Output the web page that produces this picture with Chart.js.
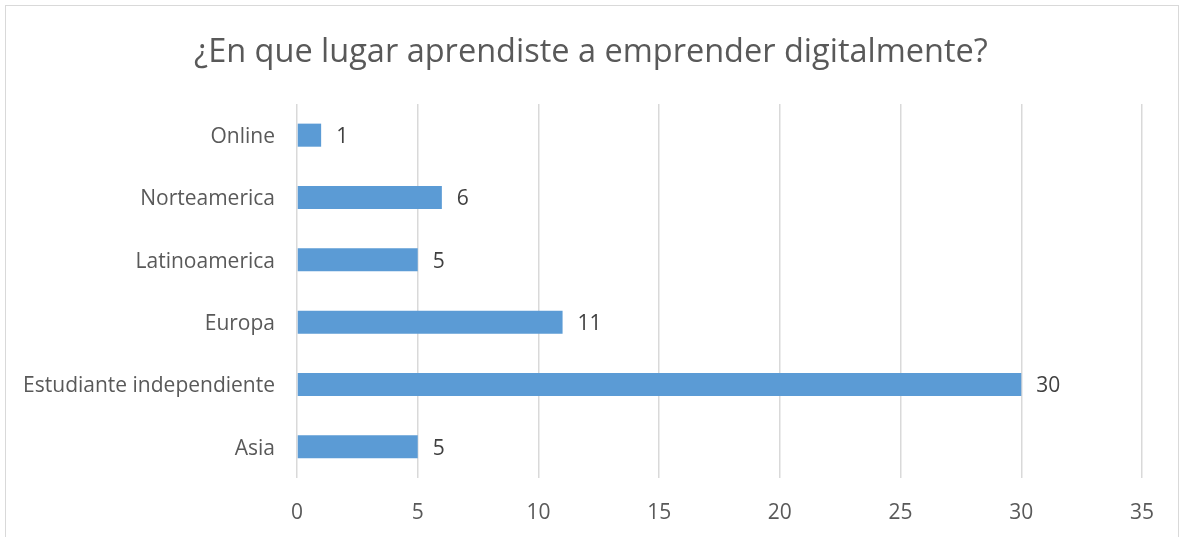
<!DOCTYPE html>
<html>
<head>
<meta charset="utf-8">
<script src="https://cdn.jsdelivr.net/npm/chart.js"></script>
<style>
  html, body { margin: 0; padding: 0; background: #fff; }
  .frame { position: absolute; left: 5px; top: 5px; width: 1172px; height: 540px; border: 1px solid #d9d9d9; }
  .wrap { position: absolute; left: 0; top: 0; width: 1182px; height: 537px; }
</style>
</head>
<body>
<div class="frame"></div>
<div class="wrap"><canvas id="lugarChart"></canvas></div>
<script>
  // datos
  const categorias = ["Online", "Norteamerica", "Latinoamerica", "Europa", "Estudiante independiente", "Asia"];
  const valores = [1, 6, 5, 11, 30, 5];
  const tituloTexto = "¿En que lugar aprendiste a emprender digitalmente?";

  const fuente = "'Open Sans', 'Noto Sans', sans-serif";

  // etiquetas de valor al final de cada barra
  const etiquetasValor = {
    id: "etiquetasValor",
    afterDatasetsDraw(chart) {
      const ctx = chart.ctx;
      const meta = chart.getDatasetMeta(0);
      ctx.save();
      ctx.font = "21px " + fuente;
      ctx.fillStyle = "#404040";
      ctx.textAlign = "left";
      ctx.textBaseline = "middle";
      meta.data.forEach((bar, i) => {
        ctx.fillText(String(valores[i]), bar.x + 15, bar.y + 2);
      });
      ctx.restore();
    }
  };

  new Chart(document.getElementById("lugarChart"), {
    type: "bar",
    data: {
      labels: categorias,
      datasets: [{
        data: valores,
        backgroundColor: "#5b9bd5",
        barPercentage: 0.37,
        categoryPercentage: 1
      }]
    },
    options: {
      indexAxis: "y",
      responsive: true,
      maintainAspectRatio: false,
      animation: false,
      layout: { padding: 0 },
      plugins: {
        legend: { display: false },
        tooltip: { enabled: false },
        title: {
          display: true,
          text: tituloTexto,
          color: "#595959",
          font: { family: fuente, size: 32.5, weight: "normal" },
          padding: { top: 33, bottom: 32 }
        }
      },
      scales: {
        x: {
          min: 0,
          max: 35,
          ticks: { stepSize: 5, color: "#595959", font: { family: fuente, size: 21 }, padding: 22 },
          grid: { color: "#d9d9d9", lineWidth: 1.5, drawTicks: false },
          border: { display: false },
          afterFit(scale) { scale.height = 59; }
        },
        y: {
          ticks: { color: "#595959", font: { family: fuente, size: 21 }, padding: 22, labelOffset: 2 },
          grid: { display: false, drawTicks: false },
          border: { display: false },
          afterFit(scale) { scale.width = 297; }
        },
        // margen derecho vacio para que el titulo quede centrado en todo el ancho
        margen: {
          type: "linear",
          position: "right",
          ticks: { display: false },
          grid: { display: false, drawTicks: false },
          border: { display: false },
          afterFit(scale) { scale.width = 40; }
        }
      }
    },
    plugins: [etiquetasValor]
  });
</script>
</body>
</html>
